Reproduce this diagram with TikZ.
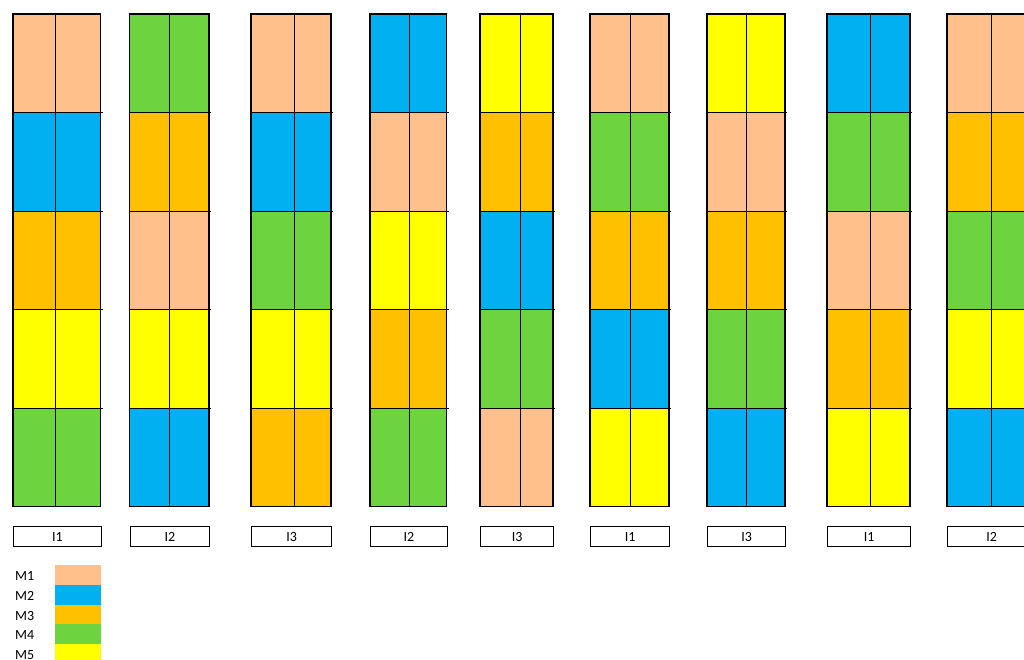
\documentclass[tikz,border=0pt]{standalone}
\usepackage{fontspec}
\setmainfont{Carlito}
\definecolor{cA}{HTML}{FFC08C}
\definecolor{cB}{HTML}{00B0F0}
\definecolor{cC}{HTML}{FFC000}
\definecolor{cD}{HTML}{6DD440}
\definecolor{cE}{HTML}{FFFF00}
\tikzset{
  grid line/.style={black, line width=1pt},
  outer line/.style={black, line width=1.3pt},
  labelbox/.style={draw=black, line width=1.2pt, fill=white, inner sep=0pt, font=\fontsize{14pt}{16pt}\selectfont},
  legendtext/.style={anchor=west, inner sep=0pt, font=\fontsize{14pt}{16pt}\selectfont},
}
\begin{document}
\begin{tikzpicture}[x=1pt,y=-1pt]
\clip (0,0) rectangle (1024,659);
\useasboundingbox (0,0) rectangle (1024,659);
\fill[white] (0,0) rectangle (1024,659);
\foreach \l/\m/\r/\a/\b/\c/\d/\e/\lab [count=\k] in {
  13/55.5/100.5/cA/cB/cC/cE/cD/I1,
  129.5/169.5/209/cD/cC/cA/cE/cB/I2,
  251/294/331/cA/cB/cD/cE/cC/I3,
  370/409/446.5/cB/cA/cE/cC/cD/I2,
  480/520/553/cE/cC/cB/cD/cA/I3,
  590/630/669/cA/cD/cC/cB/cE/I1,
  707/746/785/cE/cA/cC/cD/cB/I3,
  827/870/910/cB/cD/cA/cC/cE/I1,
  947/991/1035/cA/cC/cD/cE/cB/I2}{
  \foreach \col [count=\i] in {\a,\b,\c,\d,\e}{
    \fill[\col] (\l,{14+(\i-1)*98.5}) rectangle (\r,{14+\i*98.5});
  }
  \foreach \i in {1,...,4}{
    \draw[grid line] (\l,{14+\i*98.5}) -- ({\r+2},{14+\i*98.5});
  }
  \draw[grid line] (\m,14) -- (\m,506.5);
  \draw[outer line] (\l,14) rectangle (\r,506.5);
  \node[labelbox, minimum width={\r-\l}, minimum height=20pt, anchor=north west] (lab\k) at (\l,526) {\lab};
}
\foreach \name/\col [count=\i] in {M1/cA,M2/cB,M3/cC,M4/cD,M5/cE}{
  \fill[\col] (55,{565+(\i-1)*19.8}) rectangle (101,{565+\i*19.8});
  \node[legendtext] (leg\i) at (15,{576+(\i-1)*19.8}) {\name};
}
\end{tikzpicture}
\end{document}
